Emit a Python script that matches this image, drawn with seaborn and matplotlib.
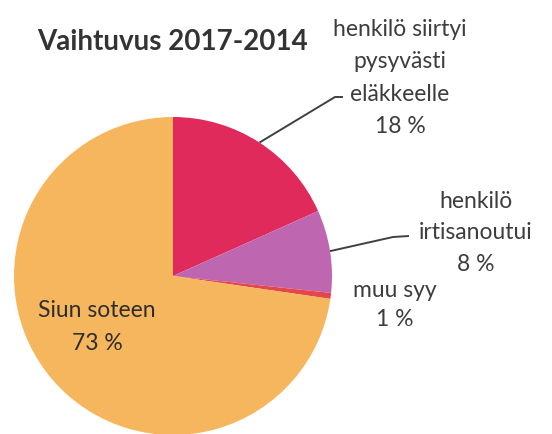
import numpy as np
import matplotlib.pyplot as plt
import seaborn as sns

# Data (share of turnover, %)
categories = ["henkilö siirtyi\npysyvästi\neläkkeelle", "henkilö\nirtisanoutui", "muu syy", "Siun soteen"]
shares = [18.3, 8.4, 0.6, 72.7]
colors = ["#E12A5C", "#BF66B0", "#E4474B", "#F6B65E"]

sns.set_theme(style="white")
plt.rcParams['font.family'] = ['Lato', 'DejaVu Sans']
text_color = "#3d3d3d"

W, H = 552, 435
fig = plt.figure(figsize=(W / 100, H / 100), dpi=100)
ax = fig.add_axes([0, 0, 1, 1])

cx, cy, r = 173, H - 277, 159
wedges, _ = ax.pie(shares, colors=colors, startangle=90, counterclock=False,
                   center=(cx, cy), radius=r, wedgeprops=dict(linewidth=0))
ax.set_xlim(0, W)
ax.set_ylim(0, H)
ax.set_aspect("equal")
ax.axis("off")

labels = [f"{c}\n{round(s)} %" for c, s in zip(categories, shares)]
fs = 16.5

# label boxes (center positions in pixels from top-left)
ax.text(400, H - 78, labels[0], ha="center", va="center", fontsize=fs,
        color=text_color, linespacing=1.65)
ax.text(476, H - 233, labels[1], ha="center", va="center", fontsize=fs,
        color=text_color, linespacing=1.62)
ax.text(395, H - 305, labels[2], ha="center", va="center", fontsize=fs,
        color=text_color, linespacing=1.45)
ax.text(97, H - 327, labels[3], ha="center", va="center", fontsize=fs,
        color="#2e2e2e", linespacing=1.65)

# leader lines from wedge middles
for w, elbow, end in [(wedges[0], (335, H - 98), (343, H - 98)),
                      (wedges[1], (393, H - 238), (409, H - 237))]:
    mid = np.deg2rad((w.theta1 + w.theta2) / 2)
    start = (cx + r * np.cos(mid), cy + r * np.sin(mid))
    ax.plot([start[0], elbow[0], end[0]], [start[1], elbow[1], end[1]],
            color="#404040", lw=1.4, solid_capstyle="butt")

ax.text(37, H - 42, "Vaihtuvus 2017-2014", ha="left", va="center",
        fontsize=20, fontweight="bold", color="#333333")

fig.savefig("out.png", dpi=100)
